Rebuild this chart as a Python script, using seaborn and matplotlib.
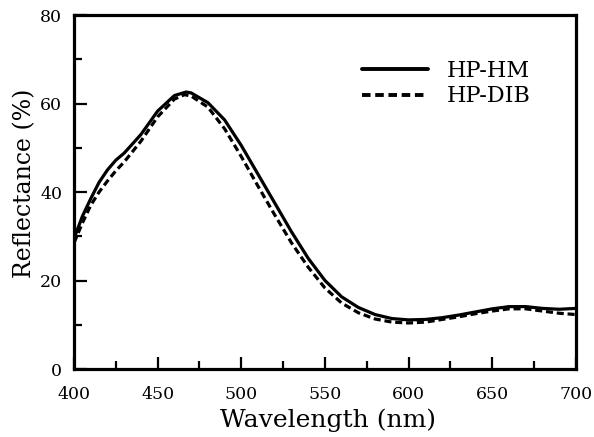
import numpy as np
import pandas as pd
import seaborn as sns
import matplotlib.pyplot as plt
from matplotlib.ticker import MultipleLocator

sns.set_theme(style='ticks')
plt.rcParams['font.family'] = ['DejaVu Serif', 'Liberation Serif']
plt.rcParams['text.color'] = 'black'
plt.rcParams['axes.labelcolor'] = 'black'

# values
wl_hm = [400, 405, 410, 415, 420, 425, 430, 440, 450, 460, 467, 470, 480, 490, 500, 510, 520, 530, 540,
         550, 560, 570, 580, 590, 600, 610, 620, 630, 640, 650, 660, 670, 680, 690, 700]
hp_hm = [29.5, 34.5, 38.5, 42.2, 45, 47.2, 48.8, 53, 58.3, 61.8, 62.6, 62.4, 60.2, 56.3, 50.5, 44, 37.5, 31, 25,
         20, 16.3, 13.9, 12.3, 11.4, 11.1, 11.2, 11.6, 12.2, 12.9, 13.6, 14.1, 14.1, 13.7, 13.5, 13.7]
wl_dib = [400, 405, 410, 415, 420, 425, 430, 440, 450, 460, 466, 470, 480, 490, 500, 510, 520, 530, 540,
          550, 560, 570, 580, 590, 600, 610, 620, 630, 640, 650, 660, 670, 680, 690, 700]
hp_dib = [28.5, 33, 37, 40, 42.5, 44.8, 46.8, 51.5, 57, 61, 62, 61.7, 59.2, 54.3, 48, 41.3, 34.8, 28.5, 23,
          18.3, 14.9, 12.7, 11.3, 10.6, 10.4, 10.6, 11.2, 11.8, 12.5, 13.1, 13.6, 13.6, 13.1, 12.6, 12.3]

df = pd.concat([
    pd.DataFrame({'wl': wl_hm, 'r': hp_hm, 'sample': 'HP-HM'}),
    pd.DataFrame({'wl': wl_dib, 'r': hp_dib, 'sample': 'HP-DIB'}),
])

fig = plt.figure(figsize=(5.94, 4.37), dpi=100)
ax = fig.add_axes([0.1246, 0.1556, 0.845, 0.81])
sns.lineplot(data=df, x='wl', y='r', style='sample', color='black', linewidth=2.3,
             dashes={'HP-HM': '', 'HP-DIB': (2.2, 1.2)}, ax=ax, sort=False)

ax.set_xlim(400, 700)
ax.set_ylim(0, 80)
ax.xaxis.set_major_locator(MultipleLocator(50))
ax.xaxis.set_minor_locator(MultipleLocator(25))
ax.yaxis.set_major_locator(MultipleLocator(20))
ax.yaxis.set_minor_locator(MultipleLocator(10))
ax.tick_params(which='both', direction='in', colors='black', labelsize=12.5, width=1.6,
               top=False, right=False)
ax.tick_params(which='major', length=9)
ax.tick_params(which='minor', length=6)
ax.tick_params(axis='x', pad=12)
ax.tick_params(axis='y', pad=8.5)
for s in ax.spines.values():
    s.set_linewidth(2.3)
    s.set_color('black')
ax.set_xlabel('Wavelength (nm)', fontsize=18)
ax.set_ylabel('Reflectance (%)', fontsize=17)
ax.xaxis.set_label_coords(0.506, -0.112)
ax.yaxis.set_label_coords(-0.076, 0.525)

leg = ax.legend(frameon=False, fontsize=16, handlelength=2.97, handletextpad=0.85,
                labelspacing=0.17, loc='upper left', bbox_to_anchor=(0.574, 0.874),
                borderpad=0, borderaxespad=0)
for h in leg.get_lines():
    h.set_linewidth(2.8)

fig.savefig('out.png', dpi=100)
